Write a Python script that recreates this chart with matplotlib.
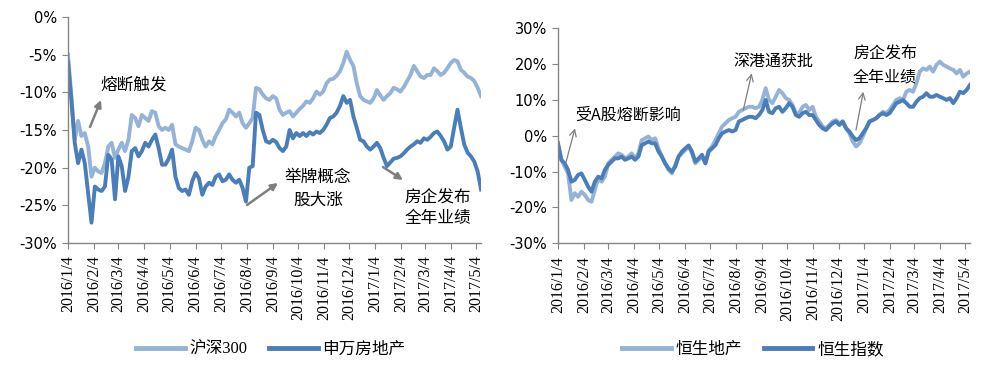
import matplotlib
matplotlib.use("Agg")
import matplotlib.pyplot as plt
from matplotlib.patches import FancyArrowPatch
from matplotlib.ticker import FuncFormatter, MultipleLocator
import pandas as pd

# ---------------- data ----------------
dates = pd.date_range("2016-01-04", "2017-05-10", freq="4D")

hs300 = [-5.0, -10.5, -16.3, -13.8, -15.8, -15.4, -17.2, -21.2, -20.0, -20.5,
         -20.7, -19.4, -17.2, -16.7, -18.7, -17.6, -16.7, -17.8, -16.3, -13.0,
         -13.4, -14.5, -13.0, -13.4, -13.8, -12.5, -12.7, -14.5, -15.0, -14.7,
         -15.0, -14.3, -16.9, -17.2, -17.4, -17.6, -17.8, -16.5, -14.7, -15.0,
         -16.3, -17.2, -16.5, -16.9, -15.8, -15.0, -14.1, -13.6, -12.3, -12.7,
         -13.2, -12.7, -14.1, -14.7, -14.1, -13.4, -9.4, -9.6, -10.3, -10.8,
         -11.0, -10.5, -10.8, -12.3, -13.0, -12.7, -12.5, -13.2, -12.7, -12.2,
         -11.8, -11.2, -11.4, -10.8, -9.9, -10.3, -9.9, -8.8, -8.3, -8.2,
         -7.8, -7.2, -6.1, -4.6, -5.7, -6.5, -8.8, -10.5, -11.0, -11.2,
         -11.4, -10.8, -9.7, -10.4, -11.0, -10.5, -10.1, -9.4, -9.6, -9.9,
         -9.3, -8.5, -7.7, -6.5, -7.2, -7.9, -8.1, -7.7, -7.7, -6.8,
         -7.2, -7.7, -7.4, -6.8, -6.1, -5.7, -5.9, -7.0, -7.4, -7.9,
         -8.1, -8.5, -9.4, -10.5]

sw_realestate = [-6.0, -11.0, -16.7, -19.4, -17.6, -19.4, -23.4, -27.3, -22.5, -22.9,
                 -23.1, -22.5, -18.3, -18.9, -24.2, -18.5, -19.8, -23.1, -21.2, -17.8,
                 -17.4, -18.5, -17.8, -16.7, -17.2, -16.3, -15.6, -17.4, -19.6, -19.6,
                 -18.8, -17.6, -21.2, -22.7, -23.1, -22.9, -23.6, -21.8, -20.7, -21.4,
                 -23.6, -22.5, -22.0, -22.3, -21.2, -20.9, -21.8, -21.6, -20.9, -21.6,
                 -22.0, -21.6, -22.7, -24.5, -20.0, -19.8, -12.7, -13.0, -15.0, -16.5,
                 -16.7, -16.3, -16.6, -17.4, -17.8, -17.2, -15.0, -16.1, -15.4, -15.8,
                 -15.4, -15.8, -15.3, -15.6, -15.2, -15.4, -15.0, -14.3, -13.4, -13.2,
                 -12.7, -11.8, -10.5, -11.4, -11.0, -13.2, -14.7, -16.3, -16.5, -17.2,
                 -17.6, -17.2, -16.7, -17.4, -18.7, -19.8, -19.3, -18.8, -18.7, -18.5,
                 -18.1, -17.6, -17.2, -16.9, -16.5, -16.7, -16.1, -16.3, -15.9, -15.4,
                 -15.2, -15.8, -16.5, -17.6, -17.2, -14.7, -12.3, -14.7, -16.9, -18.0,
                 -18.5, -19.2, -20.5, -22.9]

hs_property = [-2.6, -6.7, -8.6, -10.5, -17.9, -16.0, -17.0, -15.6, -16.5, -17.9,
               -18.4, -15.1, -11.9, -12.8, -11.4, -7.7, -6.7, -5.8, -4.9, -5.3,
               -6.3, -5.8, -4.9, -6.3, -4.9, -1.2, -0.7, -0.2, -1.2, -0.7,
               -3.5, -5.8, -7.7, -9.5, -10.5, -8.1, -5.8, -4.9, -4.0, -3.0,
               -4.9, -7.7, -6.7, -5.8, -7.7, -4.0, -3.0, -1.2, 0.7, 2.6,
               3.5, 4.4, 4.9, 5.3, 6.7, 7.2, 7.7, 8.1, 8.1, 7.7,
               8.1, 10.0, 13.3, 10.0, 9.1, 10.9, 12.8, 11.9, 10.5, 10.0,
               8.6, 6.3, 6.3, 8.1, 8.6, 7.2, 8.1, 5.3, 4.0, 2.6,
               2.1, 3.0, 4.0, 4.4, 3.5, 4.0, 2.1, 0.7, -1.6, -3.0,
               -2.1, -0.2, 2.1, 4.0, 4.4, 4.9, 5.8, 6.7, 6.3, 7.2,
               8.6, 10.0, 10.5, 10.0, 12.3, 12.8, 12.3, 14.7, 17.9, 18.8,
               18.4, 19.3, 17.9, 19.8, 20.7, 19.8, 19.3, 18.8, 18.4, 17.4,
               18.4, 16.5, 17.4, 17.9]

hsi = [-2.0, -6.7, -7.7, -9.5, -12.8, -12.3, -10.9, -10.5, -12.3, -14.2,
       -15.6, -12.8, -11.4, -11.9, -9.5, -8.1, -7.2, -6.3, -6.3, -5.8,
       -6.7, -6.3, -5.8, -6.7, -5.8, -2.6, -2.1, -1.6, -2.1, -2.1,
       -4.4, -5.8, -7.7, -9.1, -10.0, -8.6, -5.8, -4.4, -3.5, -2.7,
       -4.4, -7.2, -6.3, -5.3, -7.7, -4.4, -3.5, -2.6, -0.7, 0.7,
       1.2, 1.6, 1.2, 1.6, 4.0, 4.4, 4.9, 5.3, 5.3, 4.9,
       5.8, 7.2, 10.0, 6.7, 6.3, 7.7, 8.1, 6.7, 7.7, 9.1,
       8.1, 5.8, 5.3, 6.3, 6.7, 5.8, 5.8, 4.4, 3.0, 2.1,
       1.6, 2.6, 3.5, 4.0, 3.0, 4.0, 2.1, 1.2, -0.2, -1.2,
       -0.7, 0.7, 2.1, 4.0, 4.4, 4.9, 5.8, 6.3, 5.8, 6.3,
       7.7, 9.1, 9.5, 10.0, 9.1, 8.1, 8.1, 9.5, 10.5, 10.9,
       11.9, 10.9, 10.9, 11.4, 10.9, 10.5, 10.0, 10.5, 9.1, 10.5,
       12.3, 11.9, 12.8, 14.2]

tick_dates = pd.date_range("2016-01-01", "2017-05-01", freq="MS") + pd.Timedelta(days=3)
tick_labels = [f"{d.year}/{d.month}/{d.day}" for d in tick_dates]

left_names = ["沪深300", "申万房地产"]
right_names = ["恒生地产", "恒生指数"]

# ---------------- style ----------------
plt.rcParams["font.family"] = ["Liberation Serif", "Noto Sans CJK SC", "DejaVu Sans"]

LIGHT = "#95B3D7"
DARK = "#4A7EBB"
SPINE = "#868686"
CJK = ["Liberation Serif", "Noto Sans CJK SC", "DejaVu Sans"]
TXT = ["Noto Sans CJK SC", "DejaVu Sans"]
LW = 2.8

W, H = 998, 375
fig = plt.figure(figsize=(W / 100, H / 100), dpi=100)

ax1 = fig.add_axes([68 / W, 1 - 243 / H, (481 - 68) / W, (243 - 17) / H])
ax2 = fig.add_axes([558 / W, 1 - 243.3 / H, (970 - 558) / W, (243.3 - 28.3) / H])


def style(ax, ylo, yhi, step):
    for s in ["top", "right"]:
        ax.spines[s].set_visible(False)
    for s in ["left", "bottom"]:
        ax.spines[s].set_color(SPINE)
        ax.spines[s].set_linewidth(1.0)
    ax.set_ylim(ylo, yhi)
    ax.yaxis.set_major_locator(MultipleLocator(step))
    ax.yaxis.set_major_formatter(FuncFormatter(lambda v, p: f"{v:.0f}%"))
    ax.set_xlim(pd.Timestamp("2016-01-04"), pd.Timestamp("2017-05-10"))
    ax.set_xticks(tick_dates)
    ax.set_xticklabels(tick_labels)
    ax.tick_params(axis="x", direction="out", length=4, color=SPINE, pad=5,
                   labelrotation=90, labelsize=11.5,
                   labelfontfamily="Liberation Serif")
    ax.tick_params(axis="y", direction="out", length=4, color=SPINE, pad=4,
                   labelsize=10.5, labelfontfamily="DejaVu Sans")


l1, = ax1.plot(dates, hs300, color=LIGHT, lw=LW, solid_joinstyle="round")
l2, = ax1.plot(dates, sw_realestate, color=DARK, lw=LW, solid_joinstyle="round")
style(ax1, -30, 0, 5)

r1, = ax2.plot(dates, hs_property, color=LIGHT, lw=LW, solid_joinstyle="round")
r2, = ax2.plot(dates, hsi, color=DARK, lw=LW, solid_joinstyle="round")
style(ax2, -30, 30, 10)

# legends
leg_kw = dict(loc="center", frameon=False, ncol=2, handlelength=2.9,
              handletextpad=0.3, columnspacing=1.3,
              prop={"family": CJK, "size": 12})
lg1 = fig.legend([l1, l2], left_names, bbox_to_anchor=(271 / W, 1 - 350 / H), **leg_kw)
lg2 = fig.legend([r1, r2], right_names, bbox_to_anchor=(753 / W, 1 - 350 / H), **leg_kw)
for lg in (lg1, lg2):
    for h in lg.legend_handles:
        h.set_linewidth(3.5)


# annotations (figure pixels, y measured from top)
def P(x, y):
    return (x, H - y)


ARROW_THICK = dict(arrowstyle="-|>", color="#7F7F7F", lw=1.8, mutation_scale=10,
                   shrinkA=0, shrinkB=0)
ARROW_THIN = dict(arrowstyle="->", color="#7F7F7F", lw=0.9, mutation_scale=12,
                  shrinkA=0, shrinkB=0)


def arrow(p0, p1, kw):
    fig.add_artist(FancyArrowPatch(P(*p0), P(*p1), transform=None, **kw))


def label(x, y, s, size=12, ha="left"):
    fig.text(x / W, 1 - y / H, s, family=TXT, fontsize=size, ha=ha, va="center")


label(100, 85, "熔断触发")
arrow((90, 127), (101, 100), ARROW_THICK)

label(318, 177, "举牌概念", ha="center")
label(318, 200, "股大涨", ha="center")
arrow((247, 205), (278, 183), ARROW_THICK)

label(438, 197, "房企发布", ha="center")
label(438, 219, "全年业绩", ha="center")
arrow((383, 167), (403, 180), ARROW_THICK)

label(575, 115, "受A股熔断影响", size=11.5)
arrow((565.7, 163.3), (575, 128.3), ARROW_THIN)

label(733, 61.7, "深港通获批", size=11.5)
arrow((743.3, 110), (751.7, 73.3), ARROW_THIN)

label(853, 53, "房企发布", size=11.5)
label(853, 77, "全年业绩", size=11.5)
arrow((856, 130), (863.3, 91.7), ARROW_THIN)

fig.savefig("out.png", dpi=100)
